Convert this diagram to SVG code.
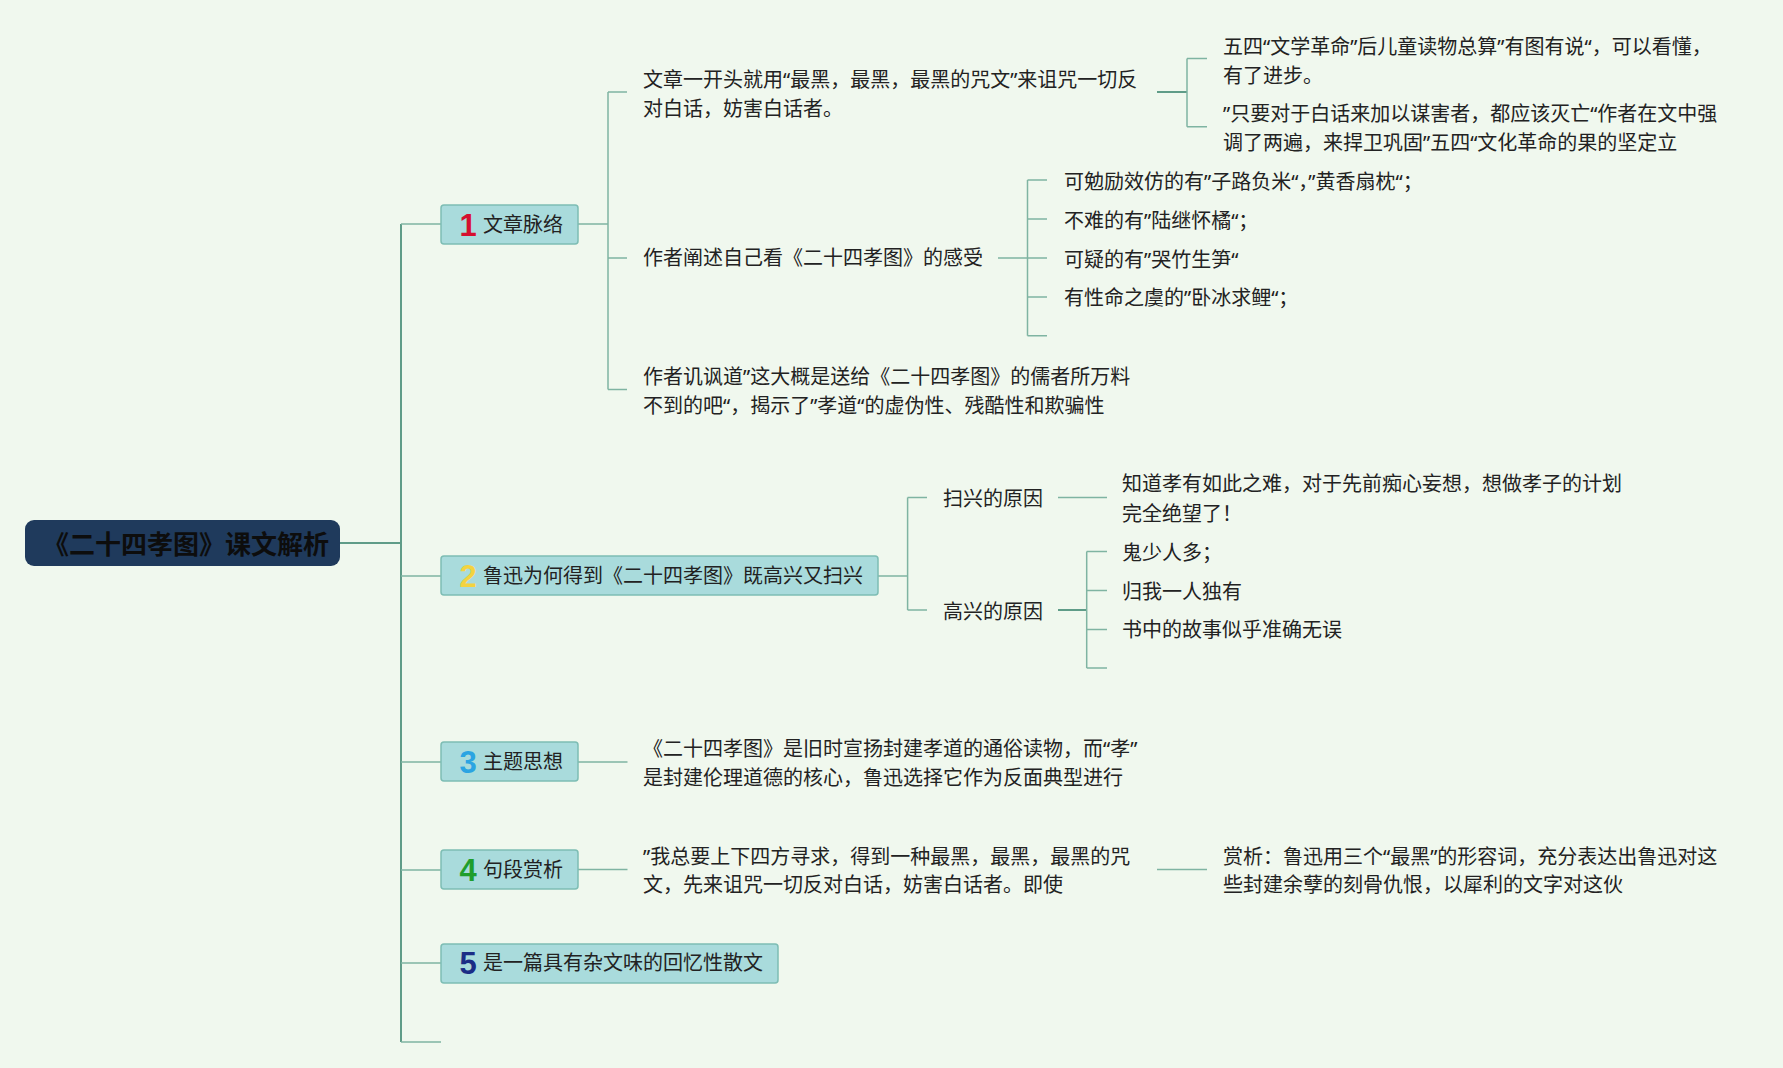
<svg xmlns="http://www.w3.org/2000/svg" width="1783" height="1068" viewBox="0 0 1783 1068">
<style>
.bg{fill:#f0f8ee}
.ln{fill:none;stroke:#7fb4a2;stroke-width:1.5}
.lt{fill:none;stroke:#5f9c88;stroke-width:2}
.t{font-family:"Noto Sans","Noto Sans CJK SC",sans-serif;font-size:20px;fill:#222}
.box{fill:#a9dbdc;stroke:#7dbdb4;stroke-width:1.5}
.num{font-family:"Liberation Sans","DejaVu Sans",sans-serif;font-weight:bold;font-size:31px;text-anchor:middle}
.root{fill:#1f3a5c}
.rt{font-family:"Noto Sans CJK SC",sans-serif;font-weight:bold;font-size:26px;fill:#0d0d0d}
</style>
<rect class="bg" x="0" y="0" width="1783" height="1068"/>
<g id="connectors">
<path class="lt" d="M340,543H401M401,224V1042"/>
<path class="ln" d="M401,224H441M401,576H441M401,762H441M401,870H441M401,963H441M401,1042H441"/>
<path class="ln" d="M578,224H608M608,92V389.5M608,92H627M608,258H627M608,389.5H627"/>
<path class="lt" d="M1157,92H1187"/>
<path class="ln" d="M1187,58.5V126.7M1187,58.5H1207M1187,126.7H1207"/>
<path class="ln" d="M998,258H1027.5M1027.5,180V335.7M1027.5,180H1047M1027.5,219H1047M1027.5,258H1047M1027.5,297H1047M1027.5,335.7H1047"/>
<path class="ln" d="M878,576H907.6M907.6,497.6V610M907.6,497.6H927M907.6,610H927"/>
<path class="ln" d="M1058,497.6H1107"/>
<path class="lt" d="M1058,610H1086.7"/>
<path class="ln" d="M1086.7,551.5V668M1086.7,551.5H1107M1086.7,590.6H1107M1086.7,629.4H1107M1086.7,668H1107"/>
<path class="ln" d="M578,762H627.5M578,869.5H627.5M1157,869.5H1207"/>
</g>
<g id="root">
<rect class="root" x="25" y="520" width="315" height="46" rx="9"/>
<text class="rt" x="43" y="553.5">《二十四孝图》课文解析</text>
</g>
<g id="n1">
<rect class="box" x="441" y="205" width="137" height="39" rx="3"/>
<text class="num" x="468" y="235.5" fill="#d6102f">1</text>
<text class="t" x="483" y="231.5">文章脉络</text>
</g>
<g id="n1a">
<text class="t" x="643" y="86.5">文章一开头就用“最黑，最黑，最黑的咒文”来诅咒一切反</text>
<text class="t" x="643" y="115.5">对白话，妨害白话者。</text>
</g>
<g id="n1a1">
<text class="t" x="1223" y="53.5">五四“文学革命”后儿童读物总算”有图有说“，可以看懂，</text>
<text class="t" x="1223" y="83">有了进步。</text>
</g>
<g id="n1a2">
<text class="t" x="1223" y="120.6">”只要对于白话来加以谋害者，都应该灭亡“作者在文中强</text>
<text class="t" x="1223" y="150">调了两遍，来捍卫巩固”五四“文化革命的果的坚定立</text>
</g>
<g id="n1b"><text class="t" x="643" y="265">作者阐述自己看《二十四孝图》的感受</text></g>
<g id="n1b1"><text class="t" x="1064" y="188.5">可勉励效仿的有”子路负米“，”黄香扇枕“；</text></g>
<g id="n1b2"><text class="t" x="1064" y="227.5">不难的有”陆继怀橘“；</text></g>
<g id="n1b3"><text class="t" x="1064" y="266.5">可疑的有”哭竹生笋“</text></g>
<g id="n1b4"><text class="t" x="1064" y="305.3">有性命之虞的”卧冰求鲤“；</text></g>
<g id="n1c">
<text class="t" x="643" y="384">作者讥讽道”这大概是送给《二十四孝图》的儒者所万料</text>
<text class="t" x="643" y="412.6">不到的吧“，揭示了”孝道“的虚伪性、残酷性和欺骗性</text>
</g>
<g id="n2">
<rect class="box" x="441" y="556" width="437" height="39" rx="3"/>
<text class="num" x="468" y="587" fill="#f3d33f">2</text>
<text class="t" x="483" y="583">鲁迅为何得到《二十四孝图》既高兴又扫兴</text>
</g>
<g id="n2a"><text class="t" x="943" y="506">扫兴的原因</text></g>
<g id="n2a1">
<text class="t" x="1122" y="491">知道孝有如此之难，对于先前痴心妄想，想做孝子的计划</text>
<text class="t" x="1122" y="521">完全绝望了！</text>
</g>
<g id="n2b"><text class="t" x="943" y="618.6">高兴的原因</text></g>
<g id="n2b1"><text class="t" x="1122" y="560">鬼少人多；</text></g>
<g id="n2b2"><text class="t" x="1122" y="598.6">归我一人独有</text></g>
<g id="n2b3"><text class="t" x="1122" y="637.4">书中的故事似乎准确无误</text></g>
<g id="n3">
<rect class="box" x="441" y="742" width="137" height="39" rx="3"/>
<text class="num" x="468" y="773" fill="#2ba4e2">3</text>
<text class="t" x="483" y="769">主题思想</text>
</g>
<g id="n3a">
<text class="t" x="643" y="756">《二十四孝图》是旧时宣扬封建孝道的通俗读物，而“孝”</text>
<text class="t" x="643" y="785">是封建伦理道德的核心，鲁迅选择它作为反面典型进行</text>
</g>
<g id="n4">
<rect class="box" x="441" y="850" width="137" height="39" rx="3"/>
<text class="num" x="468" y="881" fill="#1f9e2c">4</text>
<text class="t" x="483" y="877">句段赏析</text>
</g>
<g id="n4a">
<text class="t" x="643" y="863.6">”我总要上下四方寻求，得到一种最黑，最黑，最黑的咒</text>
<text class="t" x="643" y="892">文，先来诅咒一切反对白话，妨害白话者。即使</text>
</g>
<g id="n4a1">
<text class="t" x="1223" y="863.6">赏析：鲁迅用三个“最黑”的形容词，充分表达出鲁迅对这</text>
<text class="t" x="1223" y="892">些封建余孽的刻骨仇恨，以犀利的文字对这伙</text>
</g>
<g id="n5">
<rect class="box" x="441" y="944" width="337" height="39" rx="3"/>
<text class="num" x="468" y="974" fill="#1b2d86">5</text>
<text class="t" x="483" y="970">是一篇具有杂文味的回忆性散文</text>
</g>
</svg>
